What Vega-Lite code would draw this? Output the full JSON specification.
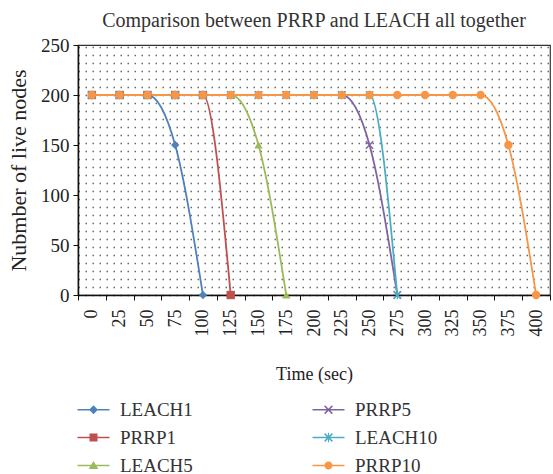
{
  "$schema": "https://vega.github.io/schema/vega-lite/v6.json",
  "autosize": {"type": "none"},
  "padding": {"left": 78, "top": 45, "right": 3, "bottom": 179},
  "width": 472,
  "height": 250,
  "background": "white",
  "title": {
    "text": "Comparison between PRRP and LEACH all together",
    "frame": "group",
    "anchor": "middle",
    "offset": 5,
    "font": "Liberation Serif",
    "fontSize": 20,
    "fontWeight": "normal",
    "color": "#333333"
  },
  "config": {
    "view": {"stroke": "#333333", "strokeWidth": 1.2},
    "axis": {
      "labelFont": "Liberation Serif",
      "titleFont": "Liberation Serif",
      "labelColor": "#222222",
      "titleColor": "#222222",
      "domainColor": "#111111",
      "tickColor": "#111111",
      "domainWidth": 1.5
    }
  },
  "data": {
    "values": [
      {"series": "LEACH1", "time": 0, "nodes": 200},
      {"series": "LEACH1", "time": 25, "nodes": 200},
      {"series": "LEACH1", "time": 50, "nodes": 200},
      {"series": "LEACH1", "time": 75, "nodes": 150},
      {"series": "LEACH1", "time": 100, "nodes": 0},
      {"series": "PRRP1", "time": 0, "nodes": 200},
      {"series": "PRRP1", "time": 25, "nodes": 200},
      {"series": "PRRP1", "time": 50, "nodes": 200},
      {"series": "PRRP1", "time": 75, "nodes": 200},
      {"series": "PRRP1", "time": 100, "nodes": 200},
      {"series": "PRRP1", "time": 125, "nodes": 0},
      {"series": "LEACH5", "time": 0, "nodes": 200},
      {"series": "LEACH5", "time": 25, "nodes": 200},
      {"series": "LEACH5", "time": 50, "nodes": 200},
      {"series": "LEACH5", "time": 75, "nodes": 200},
      {"series": "LEACH5", "time": 100, "nodes": 200},
      {"series": "LEACH5", "time": 125, "nodes": 200},
      {"series": "LEACH5", "time": 150, "nodes": 150},
      {"series": "LEACH5", "time": 175, "nodes": 0},
      {"series": "PRRP5", "time": 0, "nodes": 200},
      {"series": "PRRP5", "time": 25, "nodes": 200},
      {"series": "PRRP5", "time": 50, "nodes": 200},
      {"series": "PRRP5", "time": 75, "nodes": 200},
      {"series": "PRRP5", "time": 100, "nodes": 200},
      {"series": "PRRP5", "time": 125, "nodes": 200},
      {"series": "PRRP5", "time": 150, "nodes": 200},
      {"series": "PRRP5", "time": 175, "nodes": 200},
      {"series": "PRRP5", "time": 200, "nodes": 200},
      {"series": "PRRP5", "time": 225, "nodes": 200},
      {"series": "PRRP5", "time": 250, "nodes": 150},
      {"series": "PRRP5", "time": 275, "nodes": 0},
      {"series": "LEACH10", "time": 0, "nodes": 200},
      {"series": "LEACH10", "time": 25, "nodes": 200},
      {"series": "LEACH10", "time": 50, "nodes": 200},
      {"series": "LEACH10", "time": 75, "nodes": 200},
      {"series": "LEACH10", "time": 100, "nodes": 200},
      {"series": "LEACH10", "time": 125, "nodes": 200},
      {"series": "LEACH10", "time": 150, "nodes": 200},
      {"series": "LEACH10", "time": 175, "nodes": 200},
      {"series": "LEACH10", "time": 200, "nodes": 200},
      {"series": "LEACH10", "time": 225, "nodes": 200},
      {"series": "LEACH10", "time": 250, "nodes": 200},
      {"series": "LEACH10", "time": 275, "nodes": 0},
      {"series": "PRRP10", "time": 0, "nodes": 200},
      {"series": "PRRP10", "time": 25, "nodes": 200},
      {"series": "PRRP10", "time": 50, "nodes": 200},
      {"series": "PRRP10", "time": 75, "nodes": 200},
      {"series": "PRRP10", "time": 100, "nodes": 200},
      {"series": "PRRP10", "time": 125, "nodes": 200},
      {"series": "PRRP10", "time": 150, "nodes": 200},
      {"series": "PRRP10", "time": 175, "nodes": 200},
      {"series": "PRRP10", "time": 200, "nodes": 200},
      {"series": "PRRP10", "time": 225, "nodes": 200},
      {"series": "PRRP10", "time": 250, "nodes": 200},
      {"series": "PRRP10", "time": 275, "nodes": 200},
      {"series": "PRRP10", "time": 300, "nodes": 200},
      {"series": "PRRP10", "time": 325, "nodes": 200},
      {"series": "PRRP10", "time": 350, "nodes": 200},
      {"series": "PRRP10", "time": 375, "nodes": 150},
      {"series": "PRRP10", "time": 400, "nodes": 0}
    ]
  },
  "encoding": {
    "x": {
      "field": "time",
      "type": "ordinal",
      "scale": {"type": "band", "paddingInner": 0, "paddingOuter": 0,
        "domain": [0,25,50,75,100,125,150,175,200,225,250,275,300,325,350,375,400]},
      "axis": {
        "title": "Time (sec)",
        "titleFontSize": 18,
        "titleFontWeight": "normal",
        "titlePadding": 29,
        "labelAngle": 270,
        "labelFontSize": 18,
        "labelPadding": 9,
        "tickBand": "extent",
        "tickSize": 5,
        "grid": false
      }
    }
  },
  "layer": [
    {
      "mark": {"type": "line", "interpolate": "monotone", "strokeWidth": 1.8},
      "encoding": {
        "y": {
          "field": "nodes", "type": "quantitative",
          "scale": {"domain": [0, 250], "nice": false},
          "axis": {
            "orient": "left",
            "title": null,
            "values": [0,8,16,24,32,40,48,56,64,72,80,88,96,104,112,120,128,136,144,152,160,168,176,184,192,200,208,216,224,232,240,248],
            "labels": false,
            "ticks": false,
            "domain": false,
            "grid": true,
            "gridColor": "#444444",
            "gridOpacity": 0.8,
            "gridWidth": 1.4,
            "gridDash": [1.5, 5.5],
            "zindex": 0
          }
        },
        "color": {
          "field": "series", "type": "nominal", "legend": null,
          "scale": {
            "domain": ["LEACH1", "PRRP1", "LEACH5", "PRRP5", "LEACH10", "PRRP10"],
            "range": ["#4F81BD", "#C0504D", "#9BBB59", "#8064A2", "#4BACC6", "#F79646"]
          }
        }
      }
    },
    {
      "mark": {"type": "point", "filled": true, "opacity": 1, "size": 70},
      "encoding": {
        "y": {
          "field": "nodes", "type": "quantitative",
          "scale": {"domain": [0, 250], "nice": false},
          "axis": {
            "orient": "left",
            "title": "Nubmber of live nodes",
            "titleFontSize": 22,
            "titleFontWeight": "normal",
            "titlePadding": 10,
            "values": [0, 50, 100, 150, 200, 250],
            "labelFontSize": 19,
            "labelPadding": 4,
            "tickSize": 5,
            "grid": false,
            "zindex": 1
          }
        },
        "color": {
          "field": "series", "type": "nominal", "legend": null,
          "scale": {
            "domain": ["LEACH1", "PRRP1", "LEACH5", "PRRP5", "LEACH10", "PRRP10"],
            "range": ["#4F81BD", "#C0504D", "#9BBB59", "#8064A2", "#4BACC6", "#F79646"]
          }
        },
        "shape": {
          "field": "series", "type": "nominal", "legend": null,
          "scale": {
            "domain": ["LEACH1", "PRRP1", "LEACH5", "PRRP5", "LEACH10", "PRRP10"],
            "range": [
              "diamond",
              "square",
              "triangle-up",
              "M-1,-0.75L-0.75,-1L1,0.75L0.75,1ZM0.75,-1L1,-0.75L-0.75,1L-1,0.75Z",
              "M-1,-0.75L-0.75,-1L1,0.75L0.75,1ZM0.75,-1L1,-0.75L-0.75,1L-1,0.75ZM-0.15,-1H0.15V1H-0.15Z",
              "circle"
            ]
          }
        }
      }
    },
    {
      "mark": {"type": "point", "filled": true, "opacity": 0, "size": 256},
      "encoding": {
        "y": {"field": "nodes", "type": "quantitative", "axis": null},
        "color": {
          "field": "series", "type": "nominal",
          "scale": {
            "domain": ["LEACH1", "PRRP1", "LEACH5", "PRRP5", "LEACH10", "PRRP10"],
            "range": ["#4F81BD", "#C0504D", "#9BBB59", "#8064A2", "#4BACC6", "#F79646"]
          },
          "legend": {
            "title": null,
            "orient": "none",
            "legendX": -10,
            "legendY": 355,
            "columns": 2,
            "direction": "vertical",
            "padding": 0,
            "symbolSize": 256,
            "symbolOpacity": 1,
            "symbolStrokeWidth": 0,
            "symbolOffset": 16,
            "labelOffset": 17,
            "labelFont": "Liberation Serif",
            "labelFontSize": 19,
            "labelColor": "#333333",
            "labelLimit": 200,
            "rowPadding": 8,
            "columnPadding": 110,
            "encode": {"symbols": {"update": {"opacity": {"value": 1}, "fillOpacity": {"value": 1}}}}
          }
        },
        "shape": {
          "field": "series", "type": "nominal",
          "scale": {
            "domain": ["LEACH1", "PRRP1", "LEACH5", "PRRP5", "LEACH10", "PRRP10"],
            "range": [
              "M-2,-0.1H2V0.1H-2ZM0,-0.55L0.55,0L0,0.55L-0.55,0Z",
              "M-2,-0.1H2V0.1H-2ZM-0.5,-0.5H0.5V0.5H-0.5Z",
              "M-2,-0.1H2V0.1H-2ZM0,-0.55L0.6,0.45H-0.6Z",
              "M-2,-0.1H2V0.1H-2ZM-0.55,-0.42L-0.42,-0.55L0.55,0.42L0.42,0.55ZM0.42,-0.55L0.55,-0.42L-0.42,0.55L-0.55,0.42Z",
              "M-2,-0.1H2V0.1H-2ZM-0.55,-0.42L-0.42,-0.55L0.55,0.42L0.42,0.55ZM0.42,-0.55L0.55,-0.42L-0.42,0.55L-0.55,0.42ZM-0.07,-0.6H0.07V0.6H-0.07Z",
              "M-2,-0.1H2V0.1H-2ZM0.5,0A0.5,0.5,0,1,1,-0.5,0A0.5,0.5,0,1,1,0.5,0Z"
            ]
          }
        }
      }
    }
  ],
  "resolve": {
    "scale": {"color": "independent", "shape": "independent"},
    "axis": {"y": "independent"}
  }
}
